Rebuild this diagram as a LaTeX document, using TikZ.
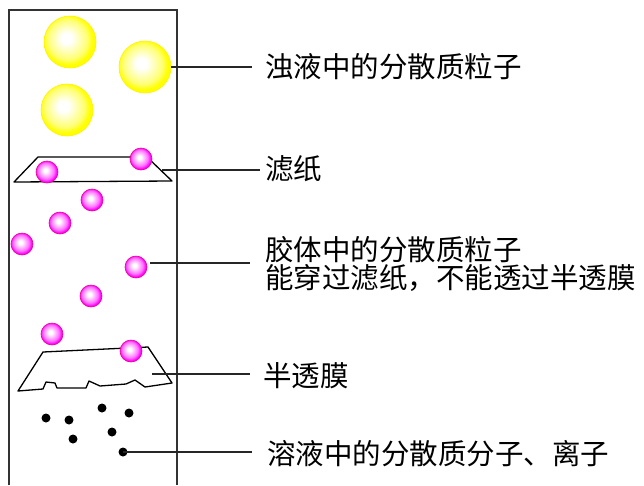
\documentclass[tikz,border=0pt]{standalone}
\usepackage{fontspec}
\newfontfamily\cjk{Noto Sans CJK SC}

% shaded particles, highlight a bit up and left
\pgfdeclareradialshading{yellowball}{\pgfpoint{-4bp}{4bp}}{color(0bp)=(white); color(5bp)=(white); color(19bp)=(yellow!55!white); color(24bp)=(yellow); color(50bp)=(yellow)}
\pgfdeclareradialshading{pinkball}{\pgfpoint{-4bp}{4bp}}{color(0bp)=(white); color(4bp)=(white); color(18bp)=(magenta!55!white); color(24bp)=(magenta); color(50bp)=(magenta)}

\tikzstyle{bigball}=[circle,shading=yellowball,draw=yellow,line width=0.6pt,minimum size=52pt,inner sep=0pt]
\tikzstyle{colloid}=[circle,shading=pinkball,draw=magenta,line width=0.6pt,minimum size=22pt,inner sep=0pt]
\tikzstyle{ion}=[circle,fill=black,minimum size=9pt,inner sep=0pt]
\tikzstyle{lbl}=[anchor=west,inner sep=0pt,align=left,font=\cjk\fontsize{28.5}{24}\selectfont]
\tikzstyle{leader}=[line width=1.2pt,black!85]

\begin{document}
\begin{tikzpicture}[x=1pt,y=-1pt]
			\useasboundingbox (0,0) rectangle (644,485);
			%The tube
			\draw[line width=1.3pt,black!80] (9,485) -- (9,10) -- (177,10) -- (177,485);
			%Coarse particles on top
			\foreach \pos/\name in {{(70,42)/y1}, {(145,67)/y2}, {(67,110)/y3}}
			\node[bigball] (\name) at \pos {};
			%Filter paper and membrane
			\draw[line width=1.3pt,line join=round] (38,157) -- (147,157) -- (172,181) -- (14,182) -- cycle;
			\draw[line width=1.3pt,line join=round] (43,352) -- (148,347) -- (172,383) -- (145,387) -- (135,380)
				-- (126,384) -- (100,386) -- (89,381) -- (86,388) -- (57,388) -- (55,383)
				-- (46,382) -- (43,389) -- (18,391) -- cycle;
			%Colloid particles
			\foreach \pos/\name in {{(47,172)/m1}, {(141,159)/m2}, {(92,200)/m3},
									{(60,223)/m4}, {(22,244)/m5}, {(136,267)/m6},
									{(91,296)/m7}, {(52,334)/m8}, {(131,351)/m9}}
			\node[colloid] (\name) at \pos {};
			%Molecules and ions below
			\foreach \pos/\name in {{(46,418)/d1}, {(69,420)/d2}, {(73,439)/d3}, {(102,408)/d4},
									{(129,413)/d5}, {(112,432)/d6}, {(123,452)/d7}}
			\node[ion] (\name) at \pos {};
			%Labels
			\node[lbl] (t1) at (265,67) {浊液中的分散质粒子};
			\node[lbl] (t2) at (265,169) {滤纸};
			\node[lbl] (t3) at (265,264) {胶体中的分散质粒子\\能穿过滤纸，不能透过半透膜};
			\node[lbl] (t4) at (263,376) {半透膜};
			\node[lbl] (t5) at (267,454) {溶液中的分散质分子、离子};
			\coordinate (pf) at (162,170);
			\coordinate (pc) at (150,263);
			\coordinate (pm) at (152,374);
			%Leader lines
			\draw[leader,shorten >=13pt] (y2.east) -- (y2.east -| t1.west);
			\draw[leader,shorten >=5pt] (pf) -- (pf -| t2.west);
			\draw[leader,shorten >=15pt] (pc) -- (pc -| t3.west);
			\draw[leader,shorten >=13pt] (pm) -- (pm -| t4.west);
			\draw[leader,shorten >=15pt] (d7.center) -- (d7.center -| t5.west);
		\end{tikzpicture}
\end{document}
